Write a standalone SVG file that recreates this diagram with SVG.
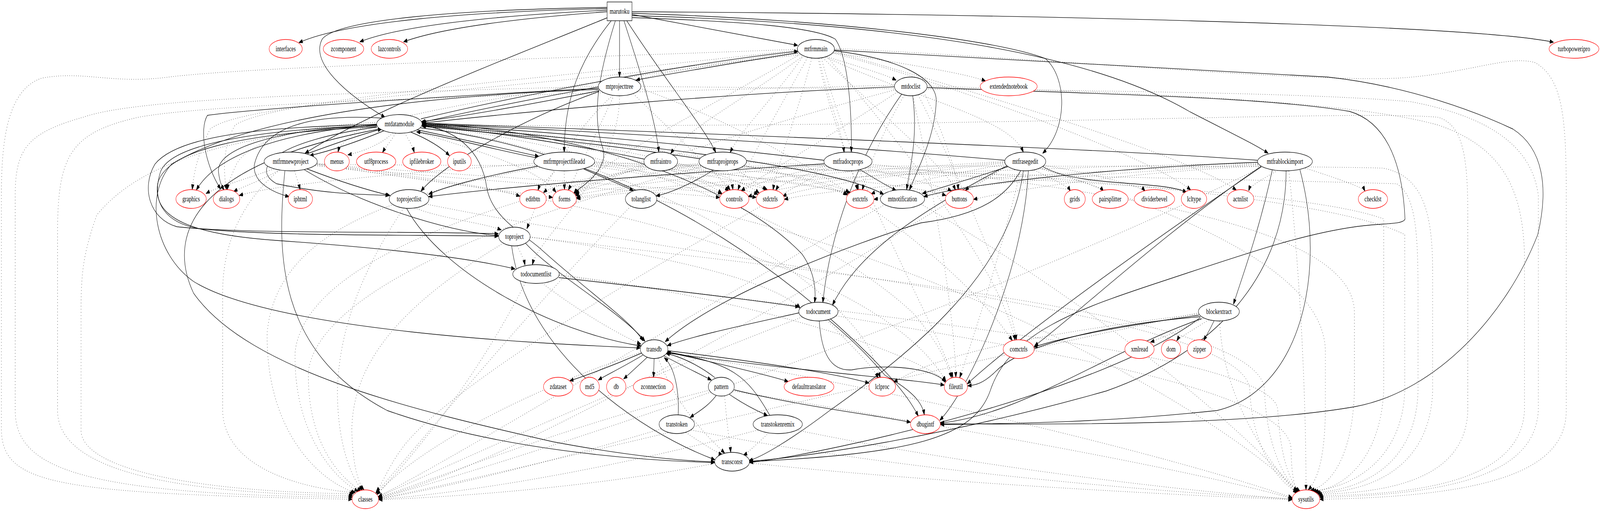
<svg xmlns="http://www.w3.org/2000/svg" width="5785" height="1307" viewBox="0 0 5785 1307" preserveAspectRatio="none" style="width:100vw;height:100vh;display:block">
<style>
.s,.d{fill:none;stroke:#000;stroke-width:1.33;marker-end:url(#a)}
.d{stroke-dasharray:1.33 6.67}
.n ellipse,.n rect{fill:#fff;stroke:#000;stroke-width:1.33}
.r ellipse{stroke:#f00}
text{font-family:"Liberation Serif","Times New Roman",serif;font-size:18.67px;text-anchor:middle;fill:#000}
</style>
<defs>
<marker id="a" markerUnits="userSpaceOnUse" markerWidth="14" markerHeight="10" viewBox="0 0 14 10" refX="13.5" refY="5" orient="auto"><path d="M0,0L14,5L0,10z" fill="#000" stroke="#000"/></marker>
</defs>
<rect width="5785" height="1307" fill="#fff"/>
<g id="edges">
<path class="s" d="M2195,22 C1700,30 1250,55 1081,109"/>
<path class="s" d="M2195,26 C1800,40 1450,65 1301,107"/>
<path class="s" d="M2195,30 C1900,45 1600,70 1459,107"/>
<path class="s" d="M2195,19 C1650,25 1220,50 1165,100 C1120,160 1250,240 1392,300"/>
<path class="s" d="M2197,45 C1800,160 1350,280 1103,392"/>
<path class="s" d="M2240,53 L2240,197"/>
<path class="s" d="M2210,53 C2100,150 2040,250 2040,389"/>
<path class="s" d="M2225,53 C2160,200 2140,300 2180,380 C2200,430 2120,470 2075,493"/>
<path class="s" d="M2256,53 C2300,150 2370,300 2382,389"/>
<path class="s" d="M2266,53 C2400,200 2550,330 2588,390"/>
<path class="s" d="M2285,37 L2884,116"/>
<path class="s" d="M2285,30 C3500,35 5300,60 5617,108"/>
<path class="s" d="M2285,34 C3000,50 3600,100 3780,150 C3860,200 3860,330 3770,392"/>
<path class="s" d="M2285,40 C3300,60 3950,140 4300,285 C4450,340 4540,370 4585,392"/>
<path class="s" d="M2285,45 C2700,55 2950,70 3020,100 C3070,150 3080,300 3078,389"/>
<path class="s" d="M1522,304 C1900,240 2500,160 2885,131"/>
<path class="s" d="M2884,135 C2500,178 1900,252 1526,313"/>
<path class="d" d="M2885,141 C2600,160 2400,185 2300,205"/>
<path class="d" d="M2990,145 C3100,170 3200,190 3240,205"/>
<path class="d" d="M3012,135 C3300,165 3500,190 3563,207"/>
<path class="s" d="M3017,130 C3250,150 3390,200 3385,260 C3380,350 3320,430 3288,486"/>
<path class="d" d="M2962,149 C2990,250 3040,320 3052,390"/>
<path class="d" d="M2985,146 C3300,250 3650,300 3700,389"/>
<path class="d" d="M2905,142 C2800,250 2680,330 2640,390"/>
<path class="d" d="M2900,145 C2700,250 2480,330 2425,393"/>
<path class="d" d="M3017,124 C3800,150 4700,210 5050,200 C5300,190 5450,140 5550,160 C5650,200 5663,300 5663,500 L5663,1050 C5663,1200 5400,1270 4772,1277"/>
<path class="d" d="M2883,126 C2000,150 900,170 600,198 C400,215 300,180 150,200 C30,230 5,350 5,500 L5,1100 C10,1240 200,1262 1273,1277"/>
<path class="d" d="M2890,140 C2500,300 2150,420 2075,495"/>
<path class="d" d="M2920,147 C2800,300 2700,420 2668,486"/>
<path class="d" d="M2935,149 C2880,300 2810,420 2795,486"/>
<path class="d" d="M2958,149 C3000,300 3080,420 3100,486"/>
<path class="d" d="M2990,145 C3300,400 3620,700 3670,870"/>
<path class="d" d="M2975,148 C3200,300 3420,430 3455,486"/>
<path class="d" d="M2885,128 C2000,200 1000,250 850,320 C800,380 810,450 819,485"/>
<path class="d" d="M2885,132 C2000,230 900,250 760,330 C710,400 700,450 695,485"/>
<path class="d" d="M3015,132 C3600,250 4300,400 4470,486"/>
<path class="d" d="M2970,149 C3100,500 3400,850 3445,966"/>
<path class="d" d="M2884,137 C2200,200 1500,280 1300,330 C1240,360 1225,380 1222,389"/>
<path class="d" d="M3015,136 C3600,250 4200,420 4305,486"/>
<path class="s" d="M3017,128 C3600,150 4200,170 4800,197 C5100,220 5350,290 5470,330 C5580,380 5600,480 5560,600 C5450,800 5200,1000 4900,1040 C4500,1090 3800,1085 3400,1084"/>
<path class="s" d="M2166,232 C1900,270 1650,300 1524,311"/>
<path class="d" d="M2163,221 C1200,240 500,250 300,300 C100,340 55,380 55,500 L55,1050 C55,1200 300,1265 1274,1272"/>
<path class="d" d="M2317,221 C3500,230 4600,230 5100,260 C5400,300 5540,380 5562,500 L5562,1050 C5550,1200 5300,1265 4771,1272"/>
<path class="s" d="M2166,234 C1900,300 1600,420 1522,489"/>
<path class="d" d="M2215,244 C2050,350 1950,500 1905,585"/>
<path class="s" d="M2163,226 C1500,250 900,280 750,295 C720,330 740,420 798,484"/>
<path class="s" d="M2163,229 C1500,245 900,300 620,420 C520,500 560,650 700,720 C1000,850 2000,880 2315,890"/>
<path class="d" d="M2240,245 C2240,450 1950,600 1925,677"/>
<path class="d" d="M2290,240 C2450,350 2600,450 2640,486"/>
<path class="d" d="M2220,244 C2150,350 2080,450 2055,486"/>
<path class="d" d="M2315,226 C3000,400 3500,700 3660,871"/>
<path class="s" d="M3234,222 C2600,240 1900,285 1526,315"/>
<path class="s" d="M3300,245 C3320,350 3290,430 3278,485"/>
<path class="s" d="M3352,224 C4000,240 4600,250 4880,285 C5000,310 5070,400 5080,560 C5075,575 5000,570 4900,580 C4700,600 4500,650 4200,720 C3900,790 3650,850 3580,1000 C3520,1120 3300,1160 2710,1181"/>
<path class="s" d="M3260,241 C3100,400 3000,600 2975,774"/>
<path class="d" d="M3320,243 C3500,500 3650,750 3675,870"/>
<path class="d" d="M3245,235 C3000,350 2750,450 2680,488"/>
<path class="d" d="M3240,229 C2700,330 2200,450 2080,494"/>
<path class="d" d="M3270,243 C3180,350 3130,450 3118,486"/>
<path class="d" d="M3235,218 C2000,240 800,260 500,300 C250,340 208,400 208,600 L208,1050 C210,1200 600,1262 1275,1268"/>
<path class="d" d="M3352,220 C4200,240 4900,260 5200,320 C5450,380 5505,500 5512,650 L5512,1050 C5500,1200 5250,1265 4769,1268"/>
<path class="d" d="M3300,245 C3380,500 3450,800 3456,965"/>
<path class="d" d="M3340,236 C3420,350 3460,450 3465,485"/>
<path class="s" d="M1390,334 C1300,360 1200,385 1120,398"/>
<path class="s" d="M1112,393 C1200,370 1300,345 1380,330"/>
<path class="d" d="M1420,340 C1380,370 1300,390 1258,396"/>
<path class="d" d="M1430,341 C1415,360 1395,375 1383,390"/>
<path class="d" d="M1463,340 C1480,360 1492,375 1498,390"/>
<path class="s" d="M1486,338 C1560,360 1600,380 1625,398"/>
<path class="s" d="M1508,332 C1700,360 1850,385 1948,400"/>
<path class="s" d="M1950,405 C1800,385 1650,355 1506,337"/>
<path class="s" d="M1362,319 C1000,340 780,400 710,486"/>
<path class="d" d="M1364,313 C1100,320 900,360 855,420 C835,450 825,470 822,485"/>
<path class="s" d="M1380,302 C1100,290 950,330 920,420 C910,470 1000,495 1045,503"/>
<path class="s" d="M1363,325 C1000,360 900,430 1000,470 C1200,500 1350,497 1407,500"/>
<path class="s" d="M1362,318 C1000,325 650,340 560,420 C510,480 540,560 640,580 C900,600 1500,590 1802,598"/>
<path class="s" d="M1362,321 C1000,330 620,360 580,440 C545,520 600,570 720,585 C1000,605 1500,600 1802,604"/>
<path class="s" d="M1362,324 C900,340 600,380 570,470 C550,560 700,600 1000,615 C1400,635 1700,660 1862,688"/>
<path class="d" d="M1363,317 C800,350 500,420 350,550 C300,650 293,700 293,800 L293,1100 C293,1200 700,1258 1278,1263"/>
<path class="d" d="M1526,320 C3500,330 4900,280 5200,300 C5290,320 5307,400 5307,550 L5307,1050 C5300,1200 5100,1260 4766,1264"/>
<path class="s" d="M1524,321 C1640,330 1740,380 1760,480 C1780,560 1900,600 1960,640 C2150,760 2280,820 2325,872"/>
<path class="s" d="M1365,331 C700,420 600,600 700,750 C900,950 1500,1050 2000,1130 C2300,1170 2500,1180 2584,1181"/>
<path class="s" d="M1526,315 C2200,340 2700,500 2900,650 C2950,700 2950,750 2945,774"/>
<path class="d" d="M1526,321 C2300,380 3000,600 3300,800 C3400,880 3430,940 3440,966"/>
<path class="d" d="M1526,323 C2300,400 3000,700 3150,900 C3170,940 3180,960 3183,966"/>
<path class="s" d="M1520,327 C2400,400 3000,800 3200,950 C3280,1010 3310,1050 3320,1064"/>
<path class="d" d="M1500,335 C1700,380 1950,430 2010,492"/>
<path class="d" d="M1526,317 C2000,350 2500,430 2610,495"/>
<path class="s" d="M1526,319 C2200,360 3000,420 3195,497"/>
<path class="d" d="M1526,318 C2200,360 2650,440 2745,494"/>
<path class="d" d="M1526,316 C2300,360 2900,440 3065,498"/>
<path class="s" d="M1363,321 C1000,330 780,380 790,440 C795,470 805,480 810,486"/>
<path class="d" d="M1010,435 C950,460 870,480 845,490"/>
<path class="d" d="M990,432 C880,460 780,480 745,495"/>
<path class="s" d="M1110,432 C1250,470 1350,490 1410,500"/>
<path class="s" d="M1100,434 C1300,520 1600,590 1803,603"/>
<path class="d" d="M1010,435 C900,500 805,600 805,750 L805,1050 C810,1200 1100,1250 1281,1260"/>
<path class="d" d="M1140,420 C2500,430 4500,420 5000,430 C5150,450 5180,550 5180,700 L5180,1000 C5170,1200 4950,1258 4762,1261"/>
<path class="s" d="M1030,437 C1000,650 1000,900 1400,1050 C1800,1150 2300,1178 2584,1183"/>
<path class="d" d="M1140,422 C1800,470 2400,490 2602,505"/>
<path class="d" d="M1140,419 C1500,460 1850,490 1998,505"/>
<path class="d" d="M1140,417 C1500,450 1800,480 1880,502"/>
<path class="d" d="M1145,420 C1900,460 2500,480 2734,505"/>
<path class="d" d="M1065,437 C1075,460 1082,475 1085,485"/>
<path class="d" d="M1140,424 C2200,500 3200,700 3420,975"/>
<path class="s" d="M1945,425 C1750,450 1600,480 1550,497"/>
<path class="s" d="M2110,432 C2200,460 2270,480 2290,488"/>
<path class="d" d="M2040,437 L2041,485"/>
<path class="d" d="M2010,435 C1980,460 1950,475 1945,487"/>
<path class="d" d="M2140,425 C2400,450 2560,480 2610,496"/>
<path class="d" d="M2145,420 C2450,450 2680,480 2740,497"/>
<path class="d" d="M2150,418 C2600,440 3000,470 3062,499"/>
<path class="d" d="M2150,416 C2700,430 3300,470 3420,500"/>
<path class="d" d="M1932,418 C1500,440 1000,470 865,500"/>
<path class="d" d="M1950,428 C1400,500 1000,600 966,850 C960,1100 1150,1230 1285,1260"/>
<path class="d" d="M2148,414 C3000,440 4600,460 5050,470 C5120,500 5127,600 5127,750 L5127,1000 C5120,1200 4900,1255 4758,1259"/>
<path class="d" d="M2330,420 C2200,450 2100,480 2075,495"/>
<path class="d" d="M2420,434 C2550,460 2620,480 2635,488"/>
<path class="d" d="M2430,432 C2650,460 2760,480 2775,486"/>
<path class="d" d="M2440,428 C2800,460 3050,490 3075,492"/>
<path class="d" d="M2340,428 C1600,550 1100,700 1067,900 C1060,1100 1200,1220 1295,1257"/>
<path class="s" d="M2330,407 C2000,360 1700,330 1526,321"/>
<path class="d" d="M2445,420 C3500,450 4700,480 5003,560 C5003,700 5003,900 5003,1000 C4990,1180 4850,1250 4752,1257"/>
<path class="s" d="M2530,406 C2200,370 1800,340 1526,323"/>
<path class="s" d="M2580,435 C2500,470 2420,495 2372,501"/>
<path class="d" d="M2630,437 C2640,460 2648,475 2650,485"/>
<path class="d" d="M2660,433 C2720,460 2760,480 2770,487"/>
<path class="d" d="M2530,420 C2300,450 2120,480 2080,497"/>
<path class="d" d="M2530,418 C2200,440 2000,470 1965,493"/>
<path class="d" d="M2690,424 C2900,450 3050,480 3070,494"/>
<path class="d" d="M2540,426 C1800,560 1150,750 1115,950 C1110,1150 1250,1230 1305,1256"/>
<path class="d" d="M2699,415 C3700,440 4800,500 5079,600 C5079,700 5079,950 5079,1000 C5070,1180 4880,1250 4745,1255"/>
<path class="s" d="M2980,410 C2500,370 1900,330 1526,319"/>
<path class="s" d="M3110,434 C3170,460 3220,480 3240,487"/>
<path class="d" d="M3080,437 C3090,460 3100,475 3104,485"/>
<path class="s" d="M2980,419 C2300,450 1800,480 1550,503"/>
<path class="d" d="M2990,425 C2800,450 2700,480 2680,488"/>
<path class="d" d="M2995,428 C2850,460 2810,480 2805,487"/>
<path class="d" d="M2985,422 C2500,450 2200,480 2080,500"/>
<path class="d" d="M3000,430 C2300,700 1600,1000 1450,1150 C1400,1200 1380,1240 1360,1258"/>
<path class="d" d="M3150,420 C4200,500 4897,600 4897,800 L4897,1000 C4890,1180 4800,1245 4738,1254"/>
<path class="d" d="M3130,430 C3300,460 3420,480 3440,489"/>
<path class="s" d="M3633,410 C3000,370 2000,330 1527,317"/>
<path class="s" d="M3645,426 C3500,460 3400,480 3335,495"/>
<path class="d" d="M3640,425 C3560,460 3500,480 3490,488"/>
<path class="d" d="M3740,435 C3810,460 3860,475 3870,489"/>
<path class="d" d="M3760,430 C3900,460 3980,480 3990,489"/>
<path class="d" d="M3775,423 C4000,450 4130,480 4140,489"/>
<path class="s" d="M3770,426 C3900,480 4200,460 4290,492"/>
<path class="d" d="M3635,420 C3400,450 3200,480 3150,496"/>
<path class="d" d="M3633,415 C3200,440 2800,480 2705,503"/>
<path class="d" d="M3633,417 C3200,450 2900,480 2830,502"/>
<path class="d" d="M3633,413 C3000,440 2300,480 2084,505"/>
<path class="s" d="M3690,437 C3640,500 3550,550 3330,570 C3100,620 2600,750 2405,874"/>
<path class="s" d="M3700,437 C3650,700 3300,900 3000,1050 C2850,1130 2750,1170 2708,1178"/>
<path class="s" d="M3718,437 C3700,700 3500,1000 3398,1075"/>
<path class="d" d="M3760,430 C4300,550 4792,700 4792,900 L4792,1050 C4790,1180 4760,1230 4730,1253"/>
<path class="d" d="M3640,425 C2800,800 1800,1200 1368,1272"/>
<path class="d" d="M3690,437 C3600,700 3500,900 3470,966"/>
<path class="s" d="M3640,424 C3300,550 3100,650 3010,780"/>
<path class="s" d="M4547,410 C4000,380 2500,340 1527,315"/>
<path class="s" d="M4547,415 C4000,430 3500,470 3340,503"/>
<path class="d" d="M4620,436 C4560,460 4520,475 4515,488"/>
<path class="d" d="M4720,430 C4850,460 4930,480 4935,489"/>
<path class="s" d="M4600,435 C4550,600 4480,730 4460,778"/>
<path class="s" d="M4560,425 C4200,600 3900,800 3740,885"/>
<path class="s" d="M4650,437 C4650,700 4400,900 4000,1000 C3400,1120 2900,1170 2710,1180"/>
<path class="s" d="M4700,434 C4800,700 4700,1000 4400,1050 C4000,1080 3700,1083 3400,1086"/>
<path class="d" d="M4660,437 C4700,700 4722,1000 4722,1253"/>
<path class="d" d="M4560,428 C3500,800 2000,1150 1368,1275"/>
<path class="d" d="M4548,418 C3500,430 2500,470 2085,508"/>
<path class="d" d="M4548,420 C3800,440 3000,480 2836,510"/>
<path class="d" d="M4548,422 C4000,440 3400,480 3160,510"/>
<path class="d" d="M4550,425 C4100,440 3700,480 3520,510"/>
<path class="s" d="M4560,427 C4200,600 3700,850 3497,982"/>
<path class="d" d="M1500,532 C1600,560 1750,570 1812,588"/>
<path class="d" d="M1460,532 C1300,700 1225,850 1220,1000 C1220,1150 1280,1230 1310,1254"/>
<path class="d" d="M1540,522 C2800,700 4519,800 4519,1000 C4530,1150 4620,1230 4690,1259"/>
<path class="s" d="M1470,533 C1600,700 2000,850 2318,885"/>
<path class="d" d="M1870,629 C1885,650 1895,665 1898,678"/>
<path class="s" d="M1900,622 C2000,700 2250,800 2332,873"/>
<path class="s" d="M1850,629 C1900,900 2300,1100 2585,1176"/>
<path class="d" d="M1820,622 C1400,800 1275,950 1272,1100 C1275,1200 1300,1240 1316,1253"/>
<path class="d" d="M1917,606 C3000,700 4572,800 4572,1000 C4580,1150 4650,1230 4695,1258"/>
<path class="d" d="M1917,607 C2400,650 2800,720 2893,788"/>
<path class="s" d="M2020,710 C2400,740 2750,770 2889,785"/>
<path class="d" d="M1900,723 C1700,1000 1450,1200 1362,1265"/>
<path class="d" d="M2022,705 C3000,800 4620,900 4620,1050 C4630,1180 4670,1240 4700,1256"/>
<path class="d" d="M1960,724 C2100,800 2250,860 2317,880"/>
<path class="d" d="M2022,703 C2700,760 3300,900 3420,975"/>
<path class="s" d="M2995,818 C3100,880 3150,920 3200,960 C3300,1000 3335,1030 3342,1061"/>
<path class="s" d="M2962,821 C2970,900 3000,950 3080,946 C3200,930 3380,940 3418,978"/>
<path class="d" d="M2900,811 C2200,1000 1600,1200 1368,1270"/>
<path class="d" d="M3025,808 C3800,900 4668,1000 4668,1150 C4670,1220 4680,1250 4698,1257"/>
<path class="s" d="M2890,800 C2700,830 2500,860 2413,884"/>
<path class="d" d="M2990,819 C3100,900 3160,940 3175,967"/>
<path class="s" d="M4390,820 C4370,850 4360,860 4352,871"/>
<path class="s" d="M4335,806 C4100,830 3850,860 3738,888"/>
<path class="s" d="M4340,810 C4000,830 3700,880 3600,950 C3550,985 3520,985 3499,987"/>
<path class="s" d="M4345,815 C4000,900 3700,1060 3400,1082"/>
<path class="d" d="M4350,815 C4250,850 4180,870 4160,875"/>
<path class="d" d="M4370,818 C4300,850 4260,865 4255,872"/>
<path class="d" d="M4410,821 C4420,1000 4550,1150 4688,1262"/>
<path class="d" d="M4335,800 C3000,1000 1900,1200 1368,1276"/>
<path class="s" d="M4340,812 C4000,1000 3000,1160 2710,1183"/>
<path class="d" d="M4335,803 C3800,850 3400,900 3232,978"/>
<path class="s" d="M2320,903 C2200,940 2100,965 2060,974"/>
<path class="s" d="M2325,908 C2250,940 2190,960 2163,972"/>
<path class="s" d="M2340,914 C2300,940 2270,960 2255,969"/>
<path class="s" d="M2365,917 L2363,965"/>
<path class="s" d="M2400,910 C2480,940 2540,960 2572,972"/>
<path class="s" d="M2585,966 C2520,930 2450,910 2408,904"/>
<path class="s" d="M2452,1061 C2456,1000 2440,940 2402,915"/>
<path class="s" d="M2783,1062 C2700,960 2650,930 2412,900"/>
<path class="s" d="M2410,900 C2600,930 2780,960 2850,976"/>
<path class="d" d="M2380,916 C2450,1050 2580,1130 2620,1159"/>
<path class="d" d="M2318,901 C1900,1000 1500,1150 1362,1265"/>
<path class="d" d="M2410,901 C3300,1000 4300,1180 4672,1273"/>
<path class="s" d="M2414,897 C2800,930 3050,960 3142,980"/>
<path class="s" d="M2414,903 C2900,950 3300,970 3414,985"/>
<path class="s" d="M2590,1011 C2560,1040 2520,1055 2495,1068"/>
<path class="s" d="M2636,1008 C2700,1040 2760,1058 2775,1063"/>
<path class="d" d="M2620,1013 C2630,1100 2640,1140 2642,1157"/>
<path class="s" d="M2654,997 C2900,1040 3150,1060 3292,1080"/>
<path class="d" d="M2565,998 C2000,1100 1600,1220 1368,1272"/>
<path class="d" d="M2650,1000 C3500,1100 4300,1200 4672,1275"/>
<path class="d" d="M2480,1106 C2550,1140 2600,1160 2612,1163"/>
<path class="d" d="M2390,1097 C2000,1180 1600,1250 1369,1276"/>
<path class="d" d="M2500,1100 C3200,1200 4200,1260 4672,1276"/>
<path class="d" d="M2780,1107 C2730,1140 2700,1160 2688,1164"/>
<path class="d" d="M2740,1100 C2200,1200 1700,1260 1369,1277"/>
<path class="d" d="M2880,1100 C3500,1190 4200,1250 4672,1277"/>
<path class="d" d="M2585,1185 C2200,1240 1700,1270 1369,1278"/>
<path class="d" d="M2710,1184 C3300,1230 4200,1265 4672,1278"/>
<path class="d" d="M3200,523 C2500,800 1700,1150 1368,1270"/>
<path class="d" d="M3330,522 C4000,800 4500,1100 4690,1258"/>
<path class="d" d="M2280,528 C1900,800 1500,1150 1358,1262"/>
<path class="d" d="M2375,512 C3400,650 4400,1050 4690,1256"/>
</g>
<g id="marutoku" class="n"><rect x="2195" y="5" width="90" height="48"/><text x="2240" y="35">marutoku</text></g>
<g id="interfaces" class="n r"><ellipse cx="1033" cy="125" rx="60" ry="24"/><text x="1033" y="131">interfaces</text></g>
<g id="zcomponent" class="n r"><ellipse cx="1242" cy="125" rx="73" ry="24"/><text x="1242" y="131">zcomponent</text></g>
<g id="lazcontrols" class="n r"><ellipse cx="1408" cy="125" rx="66" ry="24"/><text x="1408" y="131">lazcontrols</text></g>
<g id="mtfrmmain" class="n"><ellipse cx="2950" cy="125" rx="67" ry="24"/><text x="2950" y="131">mtfrmmain</text></g>
<g id="turbopoweripro" class="n r"><ellipse cx="5691" cy="125" rx="90" ry="24"/><text x="5691" y="131">turbopoweripro</text></g>
<g id="mtprojecttree" class="n"><ellipse cx="2240" cy="221" rx="77" ry="24"/><text x="2240" y="227">mtprojecttree</text></g>
<g id="mtdoclist" class="n"><ellipse cx="3293" cy="221" rx="59" ry="24"/><text x="3293" y="227">mtdoclist</text></g>
<g id="extendednotebook" class="n r"><ellipse cx="3647" cy="221" rx="103" ry="24"/><text x="3647" y="227">extendednotebook</text></g>
<g id="mtdatamodule" class="n"><ellipse cx="1444" cy="317" rx="82" ry="24"/><text x="1444" y="323">mtdatamodule</text></g>
<g id="mtfrmnewproject" class="n"><ellipse cx="1051" cy="413" rx="96" ry="24"/><text x="1051" y="419">mtfrmnewproject</text></g>
<g id="menus" class="n r"><ellipse cx="1218" cy="413" rx="45" ry="24"/><text x="1218" y="419">menus</text></g>
<g id="utf8process" class="n r"><ellipse cx="1360" cy="413" rx="71" ry="24"/><text x="1360" y="419">utf8process</text></g>
<g id="ipfilebroker" class="n r"><ellipse cx="1525" cy="413" rx="69" ry="24"/><text x="1525" y="419">ipfilebroker</text></g>
<g id="iputils" class="n r"><ellipse cx="1661" cy="413" rx="43" ry="24"/><text x="1661" y="419">iputils</text></g>
<g id="mtfrmprojectfileadd" class="n"><ellipse cx="2040" cy="413" rx="110" ry="24"/><text x="2040" y="419">mtfrmprojectfileadd</text></g>
<g id="mtfraintro" class="n"><ellipse cx="2389" cy="413" rx="61" ry="24"/><text x="2389" y="419">mtfraintro</text></g>
<g id="mtfraprojprops" class="n"><ellipse cx="2613" cy="413" rx="86" ry="24"/><text x="2613" y="419">mtfraprojprops</text></g>
<g id="mtfradocprops" class="n"><ellipse cx="3066" cy="413" rx="87" ry="24"/><text x="3066" y="419">mtfradocprops</text></g>
<g id="mtfrasegedit" class="n"><ellipse cx="3707" cy="413" rx="74" ry="24"/><text x="3707" y="419">mtfrasegedit</text></g>
<g id="mtfrablockimport" class="n"><ellipse cx="4646" cy="413" rx="99" ry="24"/><text x="4646" y="419">mtfrablockimport</text></g>
<g id="graphics" class="n r"><ellipse cx="691" cy="509" rx="55" ry="24"/><text x="691" y="515">graphics</text></g>
<g id="dialogs" class="n r"><ellipse cx="819" cy="509" rx="48" ry="24"/><text x="819" y="515">dialogs</text></g>
<g id="iphtml" class="n r"><ellipse cx="1086" cy="509" rx="44" ry="24"/><text x="1086" y="515">iphtml</text></g>
<g id="toprojectlist" class="n"><ellipse cx="1479" cy="509" rx="72" ry="24"/><text x="1479" y="515">toprojectlist</text></g>
<g id="editbtn" class="n r"><ellipse cx="1927" cy="509" rx="48" ry="24"/><text x="1927" y="515">editbtn</text></g>
<g id="forms" class="n r"><ellipse cx="2041" cy="509" rx="43" ry="24"/><text x="2041" y="515">forms</text></g>
<g id="tolanglist" class="n"><ellipse cx="2318" cy="509" rx="57" ry="24"/><text x="2318" y="515">tolanglist</text></g>
<g id="controls" class="n r"><ellipse cx="2655" cy="509" rx="53" ry="24"/><text x="2655" y="515">controls</text></g>
<g id="stdctrls" class="n r"><ellipse cx="2785" cy="509" rx="51" ry="24"/><text x="2785" y="515">stdctrls</text></g>
<g id="extctrls" class="n r"><ellipse cx="3110" cy="509" rx="50" ry="24"/><text x="3110" y="515">extctrls</text></g>
<g id="mtnotification" class="n"><ellipse cx="3263" cy="509" rx="80" ry="24"/><text x="3263" y="515">mtnotification</text></g>
<g id="buttons" class="n r"><ellipse cx="3469" cy="509" rx="51" ry="24"/><text x="3469" y="515">buttons</text></g>
<g id="grids" class="n r"><ellipse cx="3886" cy="509" rx="38" ry="24"/><text x="3886" y="515">grids</text></g>
<g id="pairsplitter" class="n r"><ellipse cx="4014" cy="509" rx="65" ry="24"/><text x="4014" y="515">pairsplitter</text></g>
<g id="dividerbevel" class="n r"><ellipse cx="4174" cy="509" rx="73" ry="24"/><text x="4174" y="515">dividerbevel</text></g>
<g id="lcltype" class="n r"><ellipse cx="4317" cy="509" rx="46" ry="24"/><text x="4317" y="515">lcltype</text></g>
<g id="actnlist" class="n r"><ellipse cx="4485" cy="509" rx="48" ry="24"/><text x="4485" y="515">actnlist</text></g>
<g id="checklst" class="n r"><ellipse cx="4964" cy="509" rx="53" ry="24"/><text x="4964" y="515">checklst</text></g>
<g id="toproject" class="n"><ellipse cx="1860" cy="605" rx="57" ry="24"/><text x="1860" y="611">toproject</text></g>
<g id="todocumentlist" class="n"><ellipse cx="1938" cy="701" rx="84" ry="24"/><text x="1938" y="707">todocumentlist</text></g>
<g id="todocument" class="n"><ellipse cx="2959" cy="797" rx="71" ry="24"/><text x="2959" y="803">todocument</text></g>
<g id="blockextract" class="n"><ellipse cx="4407" cy="797" rx="74" ry="24"/><text x="4407" y="803">blockextract</text></g>
<g id="transdb" class="n"><ellipse cx="2365" cy="893" rx="50" ry="24"/><text x="2365" y="899">transdb</text></g>
<g id="comctrls" class="n r"><ellipse cx="3683" cy="893" rx="56" ry="24"/><text x="3683" y="899">comctrls</text></g>
<g id="xmlread" class="n r"><ellipse cx="4120" cy="893" rx="53" ry="24"/><text x="4120" y="899">xmlread</text></g>
<g id="dom" class="n r"><ellipse cx="4234" cy="893" rx="35" ry="24"/><text x="4234" y="899">dom</text></g>
<g id="zipper" class="n r"><ellipse cx="4337" cy="893" rx="44" ry="24"/><text x="4337" y="899">zipper</text></g>
<g id="zdataset" class="n r"><ellipse cx="2018" cy="989" rx="53" ry="24"/><text x="2018" y="995">zdataset</text></g>
<g id="md5" class="n r"><ellipse cx="2132" cy="989" rx="35" ry="24"/><text x="2132" y="995">md5</text></g>
<g id="db" class="n r"><ellipse cx="2228" cy="989" rx="35" ry="24"/><text x="2228" y="995">db</text></g>
<g id="zconnection" class="n r"><ellipse cx="2362" cy="989" rx="72" ry="24"/><text x="2362" y="995">zconnection</text></g>
<g id="pattern" class="n"><ellipse cx="2608" cy="989" rx="47" ry="24"/><text x="2608" y="995">pattern</text></g>
<g id="defaulttranslator" class="n r"><ellipse cx="2925" cy="989" rx="90" ry="24"/><text x="2925" y="995">defaulttranslator</text></g>
<g id="lclproc" class="n r"><ellipse cx="3190" cy="989" rx="48" ry="24"/><text x="3190" y="995">lclproc</text></g>
<g id="fileutil" class="n r"><ellipse cx="3456" cy="989" rx="42" ry="24"/><text x="3456" y="995">fileutil</text></g>
<g id="transtoken" class="n"><ellipse cx="2447" cy="1085" rx="64" ry="24"/><text x="2447" y="1091">transtoken</text></g>
<g id="transtokenremix" class="n"><ellipse cx="2812" cy="1085" rx="89" ry="24"/><text x="2812" y="1091">transtokenremix</text></g>
<g id="dbugintf" class="n r"><ellipse cx="3346" cy="1085" rx="54" ry="24"/><text x="3346" y="1091">dbugintf</text></g>
<g id="transconst" class="n"><ellipse cx="2647" cy="1181" rx="63" ry="24"/><text x="2647" y="1187">transconst</text></g>
<g id="classes" class="n r"><ellipse cx="1321" cy="1277" rx="48" ry="24"/><text x="1321" y="1283">classes</text></g>
<g id="sysutils" class="n r"><ellipse cx="4722" cy="1277" rx="50" ry="24"/><text x="4722" y="1283">sysutils</text></g>
</svg>
